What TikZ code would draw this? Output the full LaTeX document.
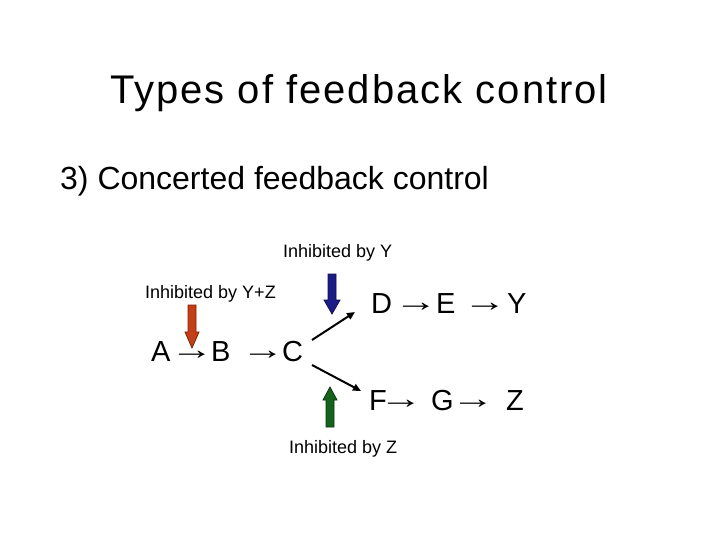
\documentclass[tikz,border=0pt]{standalone}
\usepackage{graphicx}
\usepackage{fontspec}
\setmainfont{Liberation Sans}
\newfontfamily\titlefont[LetterSpace=5]{Liberation Sans}
\newcommand{\wideto}{\raisebox{2pt}{\scalebox{1.5}[1]{→}}}
\usetikzlibrary{arrows.meta}
\definecolor{inhred}{RGB}{196,62,22}
\definecolor{inhredline}{RGB}{120,35,10}
\definecolor{inhblue}{RGB}{28,28,135}
\definecolor{inhblueline}{RGB}{15,15,80}
\definecolor{inhgreen}{RGB}{22,98,28}
\definecolor{inhgreenline}{RGB}{10,55,12}
\tikzset{
  txt/.style={inner sep=0pt, anchor=base west},
  titletxt/.style={inner sep=0pt, anchor=base, font=\titlefont\fontsize{40}{44}\selectfont},
  subtxt/.style={txt, font=\fontsize{32}{36}\selectfont},
  lbl/.style={txt, font=\fontsize{18}{20}\selectfont},
  chem/.style={txt, font=\fontsize{29}{32}\selectfont},
  conn/.style={line width=2pt, -{Triangle[length=8pt,width=7pt]}},
  redarrow/.style={fill=inhred, draw=inhredline, line width=0.8pt},
  bluearrow/.style={fill=inhblue, draw=inhblueline, line width=0.8pt},
  greenarrow/.style={fill=inhgreen, draw=inhgreenline, line width=0.8pt},
}
\begin{document}
\begin{tikzpicture}[x=1pt,y=-1pt]
\useasboundingbox (0,0) rectangle (720,540);
\node[titletxt] (title) at (359,104) {Types of feedback control};
\node[subtxt] (sub) at (60,190) {3) Concerted feedback control};
\node[lbl] (lY) at (283,258) {Inhibited by Y};
\node[lbl] (lYZ) at (145,298) {Inhibited by Y+Z};
\node[lbl] (lZ) at (289,453) {Inhibited by Z};
% chain A -> B -> C
\node[chem] (A) at (151,361) {A};
\node[chem] (ab) at (170,361) {\wideto};
\node[chem] (B) at (211,361) {B};
\node[chem] (bc) at (241,361) {\wideto};
\node[chem] (C) at (282,361) {C};
% chain D -> E -> Y
\node[chem] (D) at (371,313) {D};
\node[chem] (de) at (394,313) {\wideto};
\node[chem] (E) at (436,313) {E};
\node[chem] (ey) at (463,313) {\wideto};
\node[chem] (Y) at (507,313) {Y};
% chain F -> G -> Z
\node[chem] (F) at (369,410) {F};
\node[chem] (fg) at (379,410) {\wideto};
\node[chem] (G) at (431,410) {G};
\node[chem] (gz) at (451,410) {\wideto};
\node[chem] (Z) at (506,410) {Z};
% branch connectors
\coordinate (cd0) at (312,340);
\coordinate (cd1) at (355,312);
\coordinate (cf0) at (312,365);
\coordinate (cf1) at (361,391);
\draw[conn] (cd0) -- (cd1);
\draw[conn] (cf0) -- (cf1);
% inhibition block arrows
\draw[redarrow] (188,305) -- (196,305) -- (196,332) -- (199,332) -- (192,348) -- (185,332) -- (188,332) -- cycle;
\draw[bluearrow] (328,274) -- (336,274) -- (336,300) -- (340,300) -- (332,314) -- (324,300) -- (328,300) -- cycle;
\draw[greenarrow] (326,427) -- (334,427) -- (334,400) -- (337,400) -- (330,387) -- (323,400) -- (326,400) -- cycle;
\end{tikzpicture}
\end{document}
